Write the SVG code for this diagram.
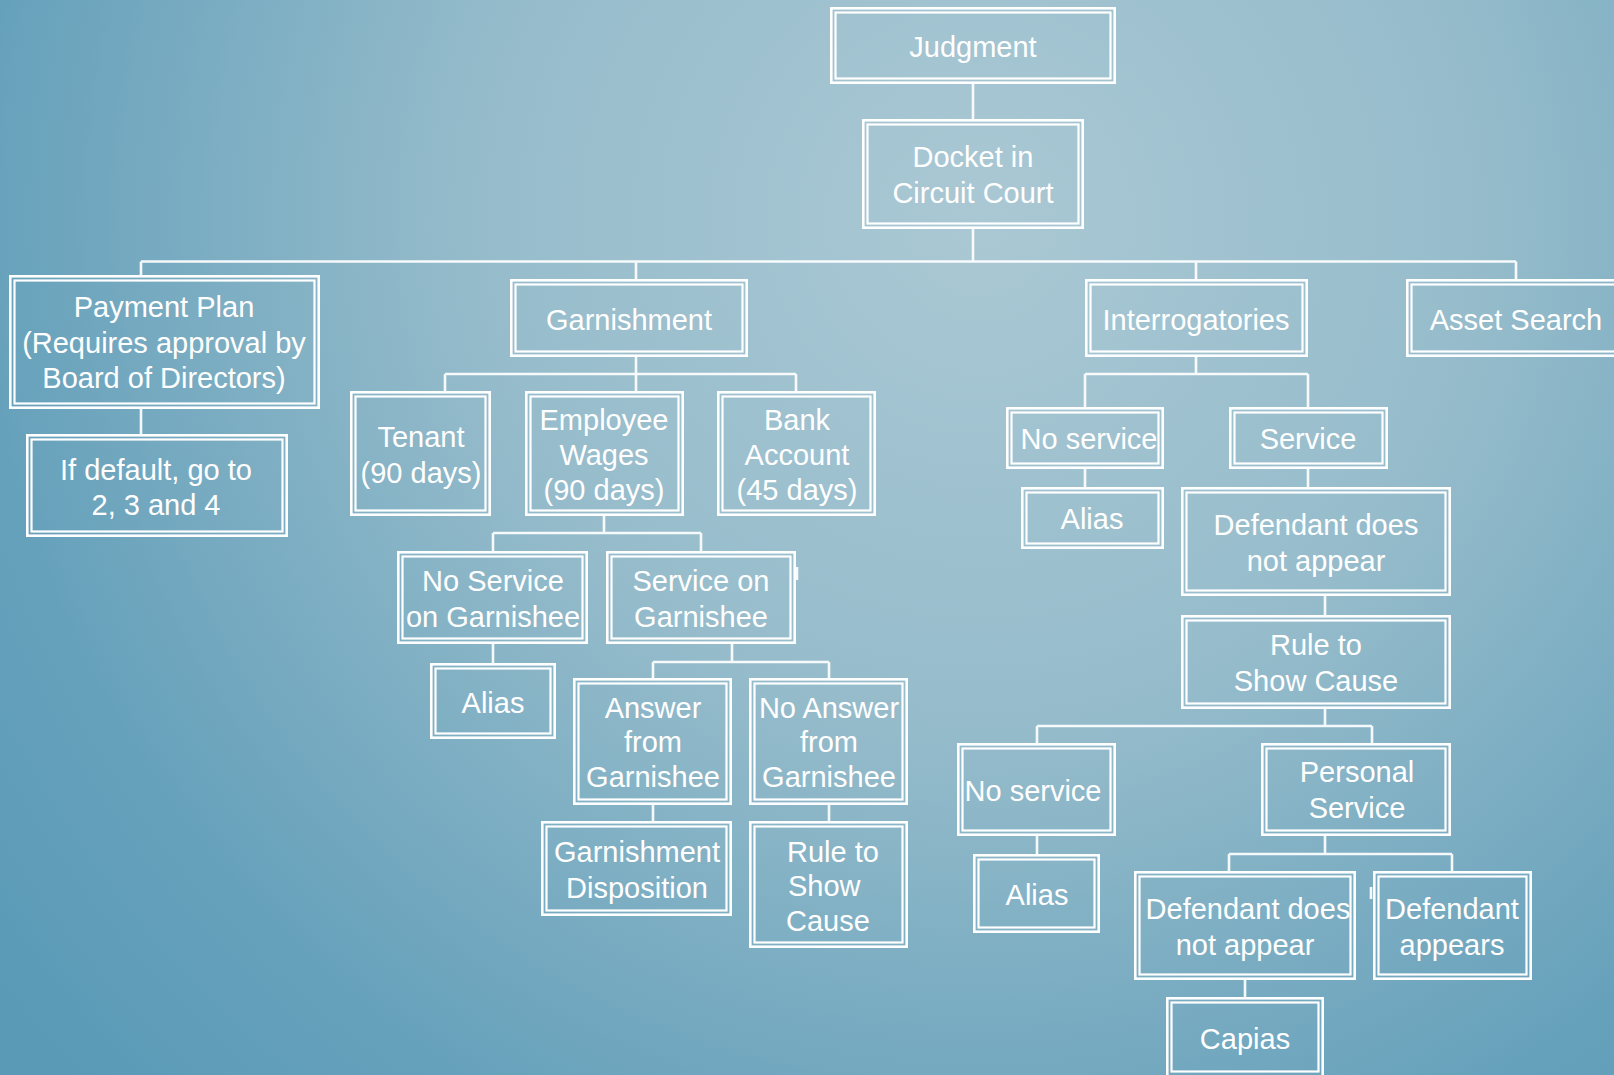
<svg xmlns="http://www.w3.org/2000/svg" width="1614" height="1075" viewBox="0 0 1614 1075">
<defs>
<radialGradient id="bg" gradientUnits="userSpaceOnUse" cx="980" cy="220" r="1250">
<stop offset="0" stop-color="#aac8d4"/>
<stop offset="0.4" stop-color="#96bccb"/>
<stop offset="0.8" stop-color="#66a1bb"/>
<stop offset="1" stop-color="#5a9ab7"/>
</radialGradient>
<style>
.o{fill:none;stroke:#ffffff;stroke-width:2.6}
.i{fill:none;stroke:#ffffff;stroke-width:2.2}
.c{fill:none;stroke:#ffffff;stroke-width:2.6;opacity:0.92}
text{font-family:"Liberation Sans",Arial,sans-serif;font-size:29px;fill:#ffffff;text-anchor:middle}
</style>
</defs>
<rect x="0" y="0" width="1614" height="1075" fill="url(#bg)"/>

<g id="connectors">
<path class="c" d="M973 84V119M973 229V261.5M141 261.5H1516M141 261.5V275M636 261.5V279M1196 261.5V279M1516 261.5V279"/>
<path class="c" d="M141 409V434"/>
<path class="c" d="M636 357V374M445 374H796M445 374V391M636 374V391M796 374V391"/>
<path class="c" d="M604 516V533M493 533H701M493 533V551M701 533V551"/>
<path class="c" d="M493 644V663"/>
<path class="c" d="M732 644V662M653 662H829M653 662V678M829 662V678"/>
<path class="c" d="M653 805V821M829 805V821"/>
<path class="c" d="M1196 357V374M1085 374H1308M1085 374V407M1308 374V407"/>
<path class="c" d="M1085 469V487M1308 469V487M1325 596V615"/>
<path class="c" d="M1325 709V726M1037 726H1372M1037 726V743M1372 726V743"/>
<path class="c" d="M1037 836V854"/>
<path class="c" d="M1325 836V854M1229 854H1452M1229 854V871M1452 854V871"/>
<path class="c" d="M1245 980V997"/>
<path class="c" d="M797 567V580M1371 887V899"/>
</g>

<g id="judgment"><rect class="o" x="831.3" y="8.3" width="283.4" height="74.4"/><rect class="i" x="835.5" y="12.5" width="275" height="66"/><text x="973" y="57">Judgment</text></g>
<g id="docket"><rect class="o" x="863.3" y="120.3" width="219.4" height="107.4"/><rect class="i" x="867.5" y="124.5" width="211" height="99"/><text x="973" y="167">Docket in</text><text x="973" y="203">Circuit Court</text></g>
<g id="payment-plan"><rect class="o" x="10.3" y="276.3" width="308.4" height="131.4"/><rect class="i" x="14.5" y="280.5" width="300" height="123"/><text x="164" y="317">Payment Plan</text><text x="164" y="353">(Requires approval by</text><text x="164" y="388">Board of Directors)</text></g>
<g id="if-default"><rect class="o" x="27.3" y="435.3" width="259.4" height="100.4"/><rect class="i" x="31.5" y="439.5" width="251" height="92"/><text x="156" y="480">If default, go to</text><text x="156" y="515">2, 3 and 4</text></g>
<g id="garnishment"><rect class="o" x="511.3" y="280.3" width="235.4" height="75.4"/><rect class="i" x="515.5" y="284.5" width="227" height="67"/><text x="629" y="330">Garnishment</text></g>
<g id="interrogatories"><rect class="o" x="1086.3" y="280.3" width="220.4" height="75.4"/><rect class="i" x="1090.5" y="284.5" width="212" height="67"/><text x="1196" y="330">Interrogatories</text></g>
<g id="asset-search"><rect class="o" x="1407.3" y="280.3" width="220" height="75.4"/><rect class="i" x="1411.5" y="284.5" width="220" height="67"/><text x="1516" y="330">Asset Search</text></g>
<g id="tenant"><rect class="o" x="351.3" y="392.3" width="138.4" height="122.4"/><rect class="i" x="355.5" y="396.5" width="130" height="114"/><text x="421" y="447">Tenant</text><text x="421" y="483">(90 days)</text></g>
<g id="employee-wages"><rect class="o" x="526.3" y="392.3" width="156.4" height="122.4"/><rect class="i" x="530.5" y="396.5" width="148" height="114"/><text x="604" y="430">Employee</text><text x="604" y="465">Wages</text><text x="604" y="500">(90 days)</text></g>
<g id="bank-account"><rect class="o" x="718.3" y="392.3" width="156.4" height="122.4"/><rect class="i" x="722.5" y="396.5" width="148" height="114"/><text x="797" y="430">Bank</text><text x="797" y="465">Account</text><text x="797" y="500">(45 days)</text></g>
<g id="no-service-garnishee"><rect class="o" x="398.3" y="552.3" width="188.4" height="90.4"/><rect class="i" x="402.5" y="556.5" width="180" height="82"/><text x="493" y="591">No Service</text><text x="493" y="627">on Garnishee</text></g>
<g id="service-garnishee"><rect class="o" x="607.3" y="552.3" width="187.4" height="90.4"/><rect class="i" x="611.5" y="556.5" width="179" height="82"/><text x="701" y="591">Service on</text><text x="701" y="627">Garnishee</text></g>
<g id="alias-1"><rect class="o" x="431.3" y="664.3" width="123.4" height="73.4"/><rect class="i" x="435.5" y="668.5" width="115" height="65"/><text x="493" y="713">Alias</text></g>
<g id="answer-garnishee"><rect class="o" x="574.3" y="679.3" width="156.4" height="124.4"/><rect class="i" x="578.5" y="683.5" width="148" height="116"/><text x="653" y="718">Answer</text><text x="653" y="752">from</text><text x="653" y="787">Garnishee</text></g>
<g id="no-answer-garnishee"><rect class="o" x="750.3" y="679.3" width="156.4" height="124.4"/><rect class="i" x="754.5" y="683.5" width="148" height="116"/><text x="829" y="718">No Answer</text><text x="829" y="752">from</text><text x="829" y="787">Garnishee</text></g>
<g id="garnishment-disposition"><rect class="o" x="542.3" y="822.3" width="188.4" height="92.4"/><rect class="i" x="546.5" y="826.5" width="180" height="84"/><text x="637" y="862">Garnishment</text><text x="637" y="898">Disposition</text></g>
<g id="rule-show-cause-1"><rect class="o" x="750.3" y="822.3" width="156.4" height="124.4"/><rect class="i" x="754.5" y="826.5" width="148" height="116"/><text x="787" y="862" style="text-anchor:start">Rule to</text><text x="788" y="896" style="text-anchor:start">Show</text><text x="786" y="931" style="text-anchor:start">Cause</text></g>
<g id="no-service-1"><rect class="o" x="1007.3" y="408.3" width="155.4" height="59.4"/><rect class="i" x="1011.5" y="412.5" width="147" height="51"/><text x="1089" y="449">No service</text></g>
<g id="service-1"><rect class="o" x="1230.3" y="408.3" width="156.4" height="59.4"/><rect class="i" x="1234.5" y="412.5" width="148" height="51"/><text x="1308" y="449">Service</text></g>
<g id="alias-2"><rect class="o" x="1022.3" y="488.3" width="140.4" height="59.4"/><rect class="i" x="1026.5" y="492.5" width="132" height="51"/><text x="1092" y="529">Alias</text></g>
<g id="defendant-not-appear-1"><rect class="o" x="1182.3" y="488.3" width="267.4" height="106.4"/><rect class="i" x="1186.5" y="492.5" width="259" height="98"/><text x="1316" y="535">Defendant does</text><text x="1316" y="571">not appear</text></g>
<g id="rule-show-cause-2"><rect class="o" x="1182.3" y="616.3" width="267.4" height="91.4"/><rect class="i" x="1186.5" y="620.5" width="259" height="83"/><text x="1316" y="655">Rule to</text><text x="1316" y="691">Show Cause</text></g>
<g id="no-service-2"><rect class="o" x="958.3" y="744.3" width="156.4" height="90.4"/><rect class="i" x="962.5" y="748.5" width="148" height="82"/><text x="1033" y="801">No service</text></g>
<g id="personal-service"><rect class="o" x="1262.3" y="744.3" width="187.4" height="90.4"/><rect class="i" x="1266.5" y="748.5" width="179" height="82"/><text x="1357" y="782">Personal</text><text x="1357" y="818">Service</text></g>
<g id="alias-3"><rect class="o" x="974.3" y="855.3" width="124.4" height="76.4"/><rect class="i" x="978.5" y="859.5" width="116" height="68"/><text x="1037" y="905">Alias</text></g>
<g id="defendant-not-appear-2"><rect class="o" x="1135.3" y="872.3" width="219.4" height="106.4"/><rect class="i" x="1139.5" y="876.5" width="211" height="98"/><text x="1248" y="919">Defendant does</text><text x="1245" y="955">not appear</text></g>
<g id="defendant-appears"><rect class="o" x="1374.3" y="872.3" width="156.4" height="106.4"/><rect class="i" x="1378.5" y="876.5" width="148" height="98"/><text x="1452" y="919">Defendant</text><text x="1452" y="955">appears</text></g>
<g id="capias"><rect class="o" x="1167.3" y="998.3" width="155.4" height="80"/><rect class="i" x="1171.5" y="1002.5" width="147" height="69"/><text x="1245" y="1049">Capias</text></g>
</svg>
